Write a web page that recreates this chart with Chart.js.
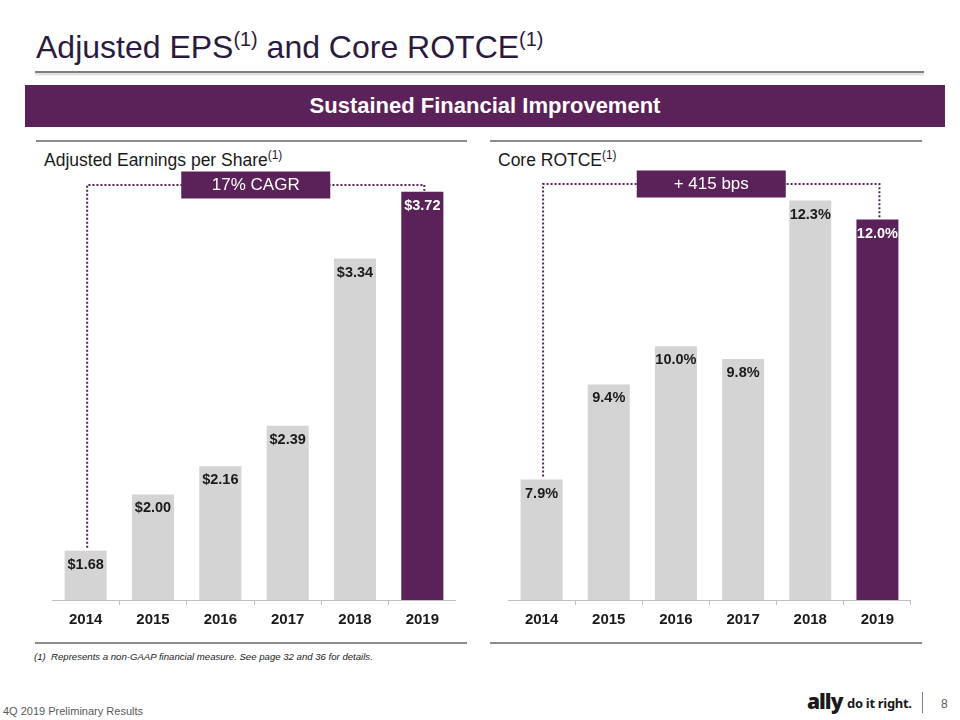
<!DOCTYPE html>
<html><head><meta charset="utf-8">
<script src="https://cdn.jsdelivr.net/npm/chart.js@4.4.0/dist/chart.umd.min.js"></script>
<style>
html,body{margin:0;padding:0;background:#fff;}
body{width:960px;height:720px;overflow:hidden;position:relative;font-family:"Liberation Sans",Arial,sans-serif;}
.abs{position:absolute;}
.sup{font-size:0.62em;position:relative;top:-0.6em;}
#title{left:36px;top:31px;font-size:32px;line-height:32px;color:#2b1a3d;white-space:nowrap;}
#titleLine{left:35px;top:71px;width:889px;height:2px;background:#7f7f7f;box-shadow:0 2px 2px rgba(0,0,0,0.18);}
#banner{left:25px;top:85px;width:920px;height:42px;background:#5b2259;color:#fff;font-weight:bold;font-size:22px;display:flex;align-items:center;justify-content:center;}
.panelLine{height:2px;background:#8c8c8c;}
.sub{font-size:17.5px;line-height:18px;color:#1a1a1a;white-space:nowrap;}
.sub .sup{font-size:0.68em;top:-0.55em;}
#foot{left:34px;top:651px;font-size:9.6px;font-style:italic;color:#1a1a1a;white-space:nowrap;}
#footer{left:3px;top:705px;font-size:11px;color:#595959;white-space:nowrap;}
#ally{left:807px;top:690px;font-size:21px;font-weight:900;color:#1a1a1a;letter-spacing:-1px;font-family:"Noto Sans","Liberation Sans",sans-serif;line-height:22px;}
#doit{left:847px;top:696px;font-size:13px;font-weight:bold;color:#1a1a1a;font-family:"Noto Sans","Liberation Sans",sans-serif;white-space:nowrap;line-height:14px;letter-spacing:-0.3px;}
#sep{left:922px;top:692px;width:1px;height:21px;background:#7f7f7f;}
#pg{left:941px;top:697px;font-size:12px;color:#595959;}
canvas{position:absolute;}
</style></head><body>
<div id="title" class="abs">Adjusted EPS<span class="sup">(1)</span> and Core ROTCE<span class="sup">(1)</span></div>
<div id="titleLine" class="abs"></div>
<div id="banner" class="abs">Sustained Financial Improvement</div>

<div class="abs panelLine" style="left:36px;top:140px;width:431px;"></div>
<div class="abs panelLine" style="left:490px;top:140px;width:432px;"></div>
<div class="abs sub" style="left:44px;top:151px;">Adjusted Earnings per Share<span class="sup">(1)</span></div>
<div class="abs sub" style="left:498px;top:151px;">Core ROTCE<span class="sup">(1)</span></div>

<canvas id="eps" width="404" height="470" style="left:52px;top:165px;"></canvas>
<canvas id="rotce" width="403" height="470" style="left:508px;top:165px;"></canvas>

<div class="abs panelLine" style="left:35px;top:642px;width:432px;"></div>
<div class="abs panelLine" style="left:490px;top:642px;width:432px;"></div>
<div id="foot" class="abs">(1)&nbsp;&nbsp;Represents a non-GAAP financial measure. See page 32 and 36 for details.</div>

<div id="footer" class="abs">4Q 2019 Preliminary Results</div>
<div id="ally" class="abs">ally</div>
<div id="doit" class="abs">do it right.</div>
<div id="sep" class="abs"></div>
<div id="pg" class="abs">8</div>

<script>
// ---- data ----
const years = ['2014', '2015', '2016', '2017', '2018', '2019'];
const epsValues = [1.68, 2.00, 2.16, 2.39, 3.34, 3.72];
const epsLabels = ['$1.68', '$2.00', '$2.16', '$2.39', '$3.34', '$3.72'];
const rotceValues = [7.9, 9.4, 10.0, 9.8, 12.3, 12.0];
const rotceLabels = ['7.9%', '9.4%', '10.0%', '9.8%', '12.3%', '12.0%'];
const epsCallout = '17% CAGR';
const rotceCallout = '+ 415 bps';

// ---- styles ----
const PURPLE = '#5b2259';
const GRAY = '#d4d4d4';
const FONT = '"Liberation Sans", Arial, sans-serif';

const annot = {
  id: 'annot',
  afterDatasetsDraw(chart, args, opts) {
    const ctx = chart.ctx;
    const bars = chart.getDatasetMeta(0).data;
    const last = bars.length - 1;
    ctx.save();
    // value labels
    ctx.font = 'bold 14.5px ' + FONT;
    ctx.textAlign = 'center';
    ctx.textBaseline = 'middle';
    bars.forEach((b, i) => {
      ctx.fillStyle = i === last ? '#ffffff' : '#1a1a1a';
      ctx.fillText(opts.labels[i], b.x, b.y + 14);
    });
    // bracket
    const a = bars[0], z = bars[last];
    const y = chart.chartArea.top + opts.offset;
    const x0 = a.x + 1.5, x1 = z.x + 2;
    ctx.strokeStyle = PURPLE;
    ctx.lineWidth = 2;
    ctx.setLineDash([2, 2]);
    ctx.beginPath();
    ctx.moveTo(x0, a.y - 3);
    ctx.lineTo(x0, y);
    ctx.lineTo(x1, y);
    ctx.lineTo(x1, z.y - 1);
    ctx.stroke();
    ctx.setLineDash([]);
    // callout box
    const cx = (x0 + x1) / 2;
    ctx.fillStyle = PURPLE;
    ctx.fillRect(cx - 74.5, y - 13.5, 149, 27);
    ctx.fillStyle = '#ffffff';
    ctx.font = '17px ' + FONT;
    ctx.fillText(opts.callout, cx, y + 0.5);
    ctx.restore();
  }
};

function makeChart(id, values, labels, callout, yMin, yMax, offset) {
  const colors = values.map((v, i) => i === values.length - 1 ? PURPLE : GRAY);
  return new Chart(document.getElementById(id), {
    type: 'bar',
    data: {
      labels: years,
      datasets: [{
        data: values,
        backgroundColor: colors,
        borderWidth: 0,
        categoryPercentage: 1.0,
        barPercentage: 0.625
      }]
    },
    options: {
      responsive: false,
      animation: false,
      devicePixelRatio: 1,
      layout: { padding: 0 },
      plugins: {
        legend: { display: false },
        tooltip: { enabled: false },
        annot: { labels: labels, callout: callout, offset: offset }
      },
      scales: {
        x: {
          grid: { display: true, drawOnChartArea: false, drawTicks: true, tickLength: 5, color: '#bfbfbf', offset: true },
          border: { display: true, color: '#bfbfbf', width: 1 },
          ticks: { color: '#1a1a1a', padding: 6, font: { family: FONT, size: 15, weight: 'bold' } }
        },
        y: {
          display: false,
          min: yMin,
          max: yMax
        }
      }
    },
    plugins: [annot]
  });
}

makeChart('eps', epsValues, epsLabels, epsCallout, 1.4, 3.872, 20);
makeChart('rotce', rotceValues, rotceLabels, rotceCallout, 6.0, 12.86, 19);
</script>
</body></html>
